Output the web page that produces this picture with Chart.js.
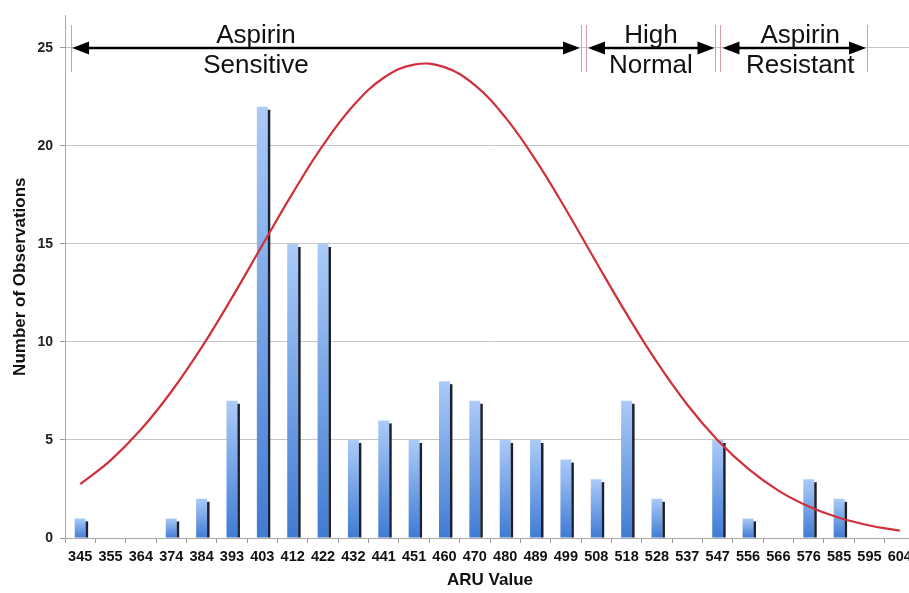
<!DOCTYPE html>
<html>
<head>
<meta charset="utf-8">
<script src="https://cdn.jsdelivr.net/npm/chart.js@4/dist/chart.umd.min.js"></script>
<style>
html, body { margin: 0; padding: 0; background: #fff; overflow: hidden; }
#wrap { width: 909px; height: 593px; overflow: hidden; }
</style>
</head>
<body>
<div id="wrap"><canvas id="chart" width="925" height="593"></canvas></div>
<script>
const ARU_LABELS = ['345', '355', '364', '374', '384', '393', '403', '412', '422', '432', '441', '451', '460', '470',
    '480', '489', '499', '508', '518', '528', '537', '547', '556', '566', '576', '585', '595', '604'];
const OBSERVATIONS = [1, 0, 0, 1, 2, 7, 22, 15, 15, 5, 6, 5, 8, 7, 5, 5, 4, 3, 7, 2, 0, 5, 1, 0, 3, 2, 0, 0];
const NORMAL_FIT = [2.75, 3.96, 5.53, 7.46, 9.72, 12.26, 14.94, 17.59, 20.04, 22.06, 23.48, 24.15, 24.02, 23.10,
    21.47, 19.29, 16.76, 14.07, 11.43, 8.97, 6.80, 4.99, 3.54, 2.42, 1.61, 1.03, 0.64, 0.38];

// region bands across the top, positions in category units
const REGION_EDGES = [-0.3, 16.58, 21.01, 25.92];
const EDGE_DOUBLE = [false, true, true, false];
const REGION_LABELS = [['Aspirin', 'Sensitive'], ['High', 'Normal'], ['Aspirin', 'Resistant']];
const REGION_LABEL_POS = [5.79, 18.8, 23.72];
const ARROW_LEVEL = 25;

const FONT = "'Liberation Sans', Arial, sans-serif";
Chart.defaults.font.family = FONT;
Chart.defaults.color = '#111';

function barGradient(c) {
    const chart = c.chart;
    if (!chart.chartArea || c.type !== 'data') return '#7aa8ec';
    const y = chart.scales.y;
    const top = y.getPixelForValue(c.raw);
    const bottom = y.getPixelForValue(0);
    if (bottom - top < 1) return '#7aa8ec';
    const g = chart.ctx.createLinearGradient(0, top, 0, bottom);
    g.addColorStop(0, '#abcbf8');
    g.addColorStop(1, '#3f7bd4');
    return g;
}

const barShadow = {
    id: 'barShadow',
    afterDatasetDraw(chart, args) {
        if (args.meta.type !== 'bar') return;
        const ctx = chart.ctx;
        ctx.save();
        ctx.fillStyle = '#1b2130';
        args.meta.data.forEach((bar, i) => {
            if (!OBSERVATIONS[i]) return;
            const p = bar.getProps(['x', 'y', 'width', 'base'], true);
            ctx.fillRect(p.x + p.width / 2, p.y + 3, 2.5, p.base - p.y - 3);
        });
        ctx.restore();
    }
};

function arrowHead(ctx, tipX, y, dir) {
    ctx.beginPath();
    ctx.moveTo(tipX, y);
    ctx.lineTo(tipX + dir * 17, y - 6.5);
    ctx.lineTo(tipX + dir * 17, y + 6.5);
    ctx.closePath();
    ctx.fill();
}

const regions = {
    id: 'regions',
    afterDraw(chart) {
        const { ctx, scales: { x, y } } = chart;
        const ya = Math.round(y.getPixelForValue(ARROW_LEVEL));
        ctx.save();

        ctx.strokeStyle = '#dc9ca4';
        ctx.lineWidth = 1;
        REGION_EDGES.forEach((e, i) => {
            const px = x.getPixelForValue(e);
            const offs = EDGE_DOUBLE[i] ? [-2.5, 2.5] : [0];
            offs.forEach(o => {
                const lx = Math.round(px + o) + 0.5;
                ctx.beginPath();
                ctx.moveTo(lx, ya - 23);
                ctx.lineTo(lx, ya + 24);
                ctx.stroke();
            });
        });

        ctx.strokeStyle = '#000';
        ctx.fillStyle = '#000';
        ctx.lineWidth = 2.5;
        for (let i = 0; i < REGION_EDGES.length - 1; i++) {
            const a = x.getPixelForValue(REGION_EDGES[i]) + (EDGE_DOUBLE[i] ? 4.5 : 1);
            const b = x.getPixelForValue(REGION_EDGES[i + 1]) - (EDGE_DOUBLE[i + 1] ? 3.5 : 1);
            ctx.beginPath();
            ctx.moveTo(a + 10, ya);
            ctx.lineTo(b - 10, ya);
            ctx.stroke();
            arrowHead(ctx, a, ya, 1);
            arrowHead(ctx, b, ya, -1);
        }

        ctx.font = '26px ' + FONT;
        ctx.textAlign = 'center';
        ctx.textBaseline = 'alphabetic';
        ctx.fillStyle = '#111';
        REGION_LABELS.forEach((lines, i) => {
            const cx = x.getPixelForValue(REGION_LABEL_POS[i]);
            ctx.fillText(lines[0], cx, ya - 5);
            ctx.fillText(lines[1], cx, ya + 25);
        });
        ctx.restore();
    }
};

new Chart(document.getElementById('chart'), {
    type: 'bar',
    data: {
        labels: ARU_LABELS,
        datasets: [
            {
                type: 'line',
                data: NORMAL_FIT,
                borderColor: '#d0303a',
                borderWidth: 2.2,
                pointRadius: 0,
                tension: 0.4,
                fill: false,
            },
            {
                type: 'bar',
                data: OBSERVATIONS,
                backgroundColor: barGradient,
                borderWidth: 0,
                categoryPercentage: 1,
                barPercentage: 0.36,
            },
        ],
    },
    options: {
        responsive: false,
        animation: false,
        layout: { padding: { left: 0, top: 5, right: 10, bottom: 0 } },
        plugins: { legend: { display: false }, tooltip: { enabled: false } },
        scales: {
            x: {
                ticks: { font: { size: 14.5, weight: 'bold' }, color: '#111', padding: 5, autoSkip: false, maxRotation: 0 },
                grid: { display: true, drawOnChartArea: false, tickLength: 5, color: '#9a9a9a' },
                border: { color: '#a8a8a8' },
                title: {
                    display: true, text: 'ARU Value', color: '#111',
                    font: { size: 17, weight: 'bold' }, padding: { top: 0, bottom: 2 },
                },
                afterFit: s => { s.height = 55; },
            },
            y: {
                min: 0,
                max: 26.66,
                afterBuildTicks: s => { s.ticks = s.ticks.filter(t => t.value % 5 === 0); },
                ticks: { stepSize: 5, font: { size: 14, weight: 'bold' }, color: '#222', padding: 7 },
                grid: { color: '#c6c6c6', tickLength: 5, tickColor: '#9a9a9a' },
                border: { color: '#a8a8a8' },
                title: {
                    display: true, text: 'Number of Observations', color: '#111',
                    font: { size: 17, weight: 'bold' }, padding: { top: 10, bottom: 0 },
                },
                afterFit: s => { s.width = 65; },
            },
        },
    },
    plugins: [barShadow, regions],
});
</script>
</body>
</html>
